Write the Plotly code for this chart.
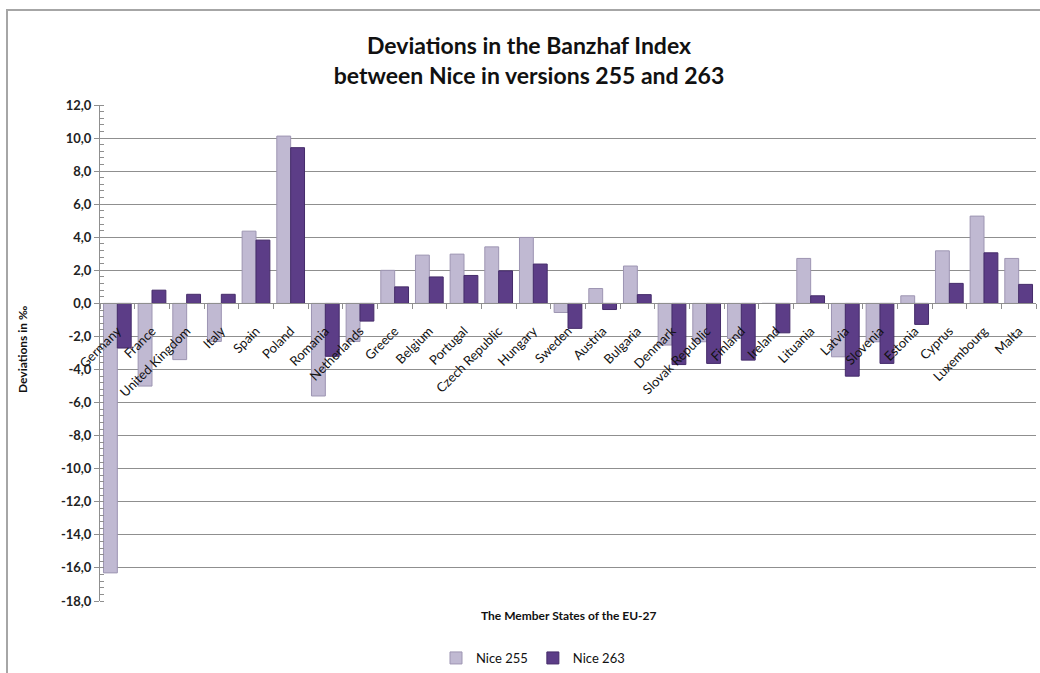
import plotly.graph_objects as go

countries = ["Germany", "France", "United Kingdom", "Italy", "Spain", "Poland", "Romania",
             "Netherlands", "Greece", "Belgium", "Portugal", "Czech Republic", "Hungary",
             "Sweden", "Austria", "Bulgaria", "Denmark", "Slovak Republic", "Finland",
             "Ireland", "Lituania", "Latvia", "Slovenia", "Estonia", "Cyprus",
             "Luxembourg", "Malta"]

nice_255 = [-16.3, -5.0, -3.4, -2.3, 4.37, 10.12, -5.6, -2.3, 2.0, 2.92, 2.98, 3.42, 3.99,
            -0.55, 0.9, 2.26, -2.52, -2.32, -2.12, 0.0, 2.72, -3.23, -2.32, 0.46, 3.18,
            5.28, 2.72]

nice_263 = [-2.7, 0.8, 0.55, 0.55, 3.83, 9.42, -3.2, -1.07, 1.0, 1.6, 1.69, 1.97, 2.38,
            -1.51, -0.37, 0.53, -3.7, -3.63, -3.43, -1.78, 0.46, -4.4, -3.63, -1.27, 1.21,
            3.06, 1.15]

y_tickvals = [-18, -16, -14, -12, -10, -8, -6, -4, -2, 0, 2, 4, 6, 8, 10, 12]
y_ticktext = ["-18,0", "-16,0", "-14,0", "-12,0", "-10,0", "-8,0", "-6,0", "-4,0", "-2,0",
              "0,0", "2,0", "4,0", "6,0", "8,0", "10,0", "12,0"]

FONT = "Lato, 'Open Sans', sans-serif"
GRID = "#8f8f8f"

fig = go.Figure()
fig.add_trace(go.Bar(
    name="Nice 255", x=countries, y=nice_255,
    marker=dict(color="#c0b9d2", line=dict(color="#9d95b2", width=1)),
))
fig.add_trace(go.Bar(
    name="Nice 263", x=countries, y=nice_263,
    marker=dict(color="#5c3d87", line=dict(color="#452c6a", width=1)),
))

W, H = 1040, 673
ml, mr, mt, mb = 100, 4, 105, 72
pw = W - ml - mr
ph = H - mt - mb

def px_x(x):
    return (x - ml) / pw

def px_y(y):
    return (H - mb - y) / ph

fig.update_layout(
    width=W, height=H,
    margin=dict(l=ml, r=mr, t=mt, b=mb, autoexpand=False),
    paper_bgcolor="white", plot_bgcolor="white",
    font=dict(family=FONT, color="#111111"),
    barmode="group", bargap=0.2, bargroupgap=0.0,
    title=dict(
        text="<b>Deviations in the Banzhaf Index</b><br><b>between Nice in versions 255 and 263</b>",
        x=px_x(529), xref="paper", xanchor="center",
        y=1 - 54 / H, yref="container", yanchor="middle",
        font=dict(family=FONT, size=23, color="#111111"),
    ),
    legend=dict(
        orientation="h", x=px_x(533), xanchor="center",
        y=px_y(658), yanchor="middle",
        font=dict(family=FONT, size=13, color="#111111"),
        itemwidth=30, tracegroupgap=0,
    ),
    showlegend=True,
)

fig.update_yaxes(
    range=[-18, 12],
    tickvals=y_tickvals, ticktext=y_ticktext,
    tickfont=dict(family=FONT, size=13, color="#222222", weight="bold"),
    showgrid=True, gridcolor=GRID, gridwidth=1,
    zeroline=True, zerolinecolor=GRID, zerolinewidth=1,
    showline=True, linecolor=GRID, linewidth=1,
    ticks="outside", ticklen=5, tickcolor=GRID,
    minor=dict(dtick=0.4, tick0=0, ticks="inside", ticklen=4, tickcolor=GRID, showgrid=False),
    automargin=False,
)

fig.update_xaxes(
    type="category",
    anchor="free", position=0.6,
    showline=True, linecolor=GRID, linewidth=1,
    ticks="outside", ticklen=5, tickcolor=GRID, tickson="boundaries",
    tickangle=-45, ticklabelstandoff=14,
    tickfont=dict(family=FONT, size=13, color="#111111"),
    showgrid=False, automargin=False,
)

# axis titles
fig.add_annotation(
    text="<b>The Member States of the EU-27</b>",
    xref="paper", yref="paper", x=px_x(568), y=px_y(615),
    xanchor="center", yanchor="middle", showarrow=False,
    font=dict(family=FONT, size=12, color="#111111"),
)
fig.add_annotation(
    text="<b>Deviations in ‰</b>",
    xref="paper", yref="paper", x=px_x(22), y=px_y(350),
    xanchor="center", yanchor="middle", textangle=-90, showarrow=False,
    font=dict(family=FONT, size=12, color="#111111"),
)

# chart area border
fig.add_shape(
    type="rect", xref="paper", yref="paper",
    x0=px_x(7), x1=px_x(1060), y0=px_y(700), y1=px_y(10),
    line=dict(color="#a6a6a6", width=2), fillcolor="rgba(0,0,0,0)", layer="below",
)

fig.write_html(
    "out.html",
    config={"displayModeBar": False},
    post_script="document.body.style.margin='0';document.body.style.overflow='hidden';",
)
